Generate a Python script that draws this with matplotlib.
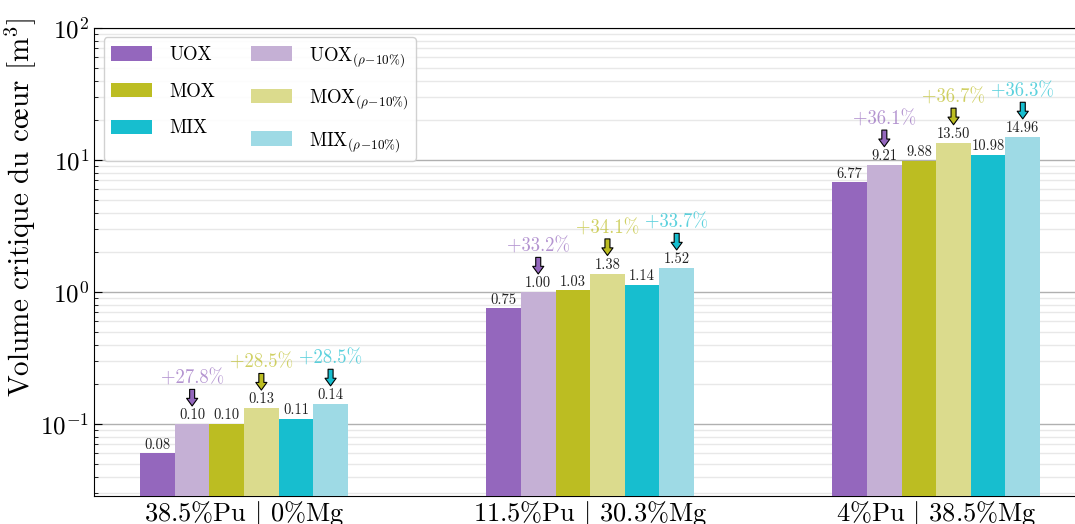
import numpy as np
import matplotlib
matplotlib.use("Agg")
import matplotlib.pyplot as plt

plt.rcParams['font.family'] = ['cmr10', 'DejaVu Serif']
plt.rcParams['mathtext.fontset'] = 'cm'
plt.rcParams['axes.formatter.use_mathtext'] = True
plt.rcParams['axes.unicode_minus'] = False

# donnees
groupes = [r'38.5%Pu $|$ 0%Mg', r'11.5%Pu $|$ 30.3%Mg', r'4%Pu $|$ 38.5%Mg']
series = ['UOX', r'UOX$_{(\rho\!-\!10\%)}$', 'MOX', r'MOX$_{(\rho\!-\!10\%)}$',
          'MIX', r'MIX$_{(\rho\!-\!10\%)}$']
uox     = [0.060, 0.753, 6.77]
uox_rho = [0.100, 1.00, 9.21]
mox     = [0.100, 1.03, 9.88]
mox_rho = [0.132, 1.38, 13.50]
mix     = [0.109, 1.14, 10.98]
mix_rho = [0.142, 1.52, 14.96]
etiquettes = [['0.08', '0.10', '0.10', '0.13', '0.11', '0.14'],
              ['0.75', '1.00', '1.03', '1.38', '1.14', '1.52'],
              ['6.77', '9.21', '9.88', '13.50', '10.98', '14.96']]
hausse_uox = ['+27.8%', '+33.2%', '+36.1%']
hausse_mox = ['+28.5%', '+34.1%', '+36.7%']
hausse_mix = ['+28.5%', '+33.7%', '+36.3%']

couleurs = ['#9467bd', '#c5b0d5', '#bcbd22', '#dbdb8d', '#17becf', '#9edae5']

fig = plt.figure(figsize=(10.75, 5.24), dpi=100)
ax = fig.add_axes([94.3/1075, 28/524, (1086-94.3)/1075, (496-28)/524])

x = np.arange(len(groupes))
w = 0.1
valeurs = [uox, uox_rho, mox, mox_rho, mix, mix_rho]
barres = []
for i, (v, c, lab) in enumerate(zip(valeurs, couleurs, series)):
    pos = x + (i - 2.5) * w
    barres.append(ax.bar(pos, v, w, color=c, label=lab, zorder=3))
    for j in range(len(x)):
        ax.text(pos[j], v[j] * 1.03, etiquettes[j][i], ha='center', va='bottom',
                fontsize=10.5, color='#222222', zorder=4)

# fleches et pourcentages
for i, hausse in [(1, hausse_uox), (3, hausse_mox), (5, hausse_mix)]:
    v = valeurs[i]
    c = couleurs[i - 1]
    for j in range(len(x)):
        px = x[j] + (i - 2.5) * w
        ax.annotate('', xy=(px, v[j] * 1.37), xytext=(px, v[j] * 1.83),
                    arrowprops=dict(arrowstyle='simple,head_width=0.8,head_length=0.55,tail_width=0.36',
                                    fc=c, ec='k', lw=0.8, mutation_scale=10,
                                    shrinkA=0, shrinkB=0), zorder=5)
        ax.text(px, v[j] * 2.2, hausse[j], ha='center', va='center',
                fontsize=13.5, color=c, alpha=0.7, zorder=5)

ax.set_yscale('log')
ax.set_ylim(0.0285, 100)
ax.set_xlim(-0.4327, 2.4327)
ax.set_xticks(x)
ax.set_xticklabels(groupes, fontsize=19)
ax.tick_params(axis='x', length=0, pad=2)
ax.tick_params(axis='y', which='major', direction='in', length=6, labelsize=18, right=False)
ax.tick_params(axis='y', which='minor', direction='in', length=3)
ax.set_ylabel(r'Volume critique du c$\mathrm{\oe}$ur [m$^3$]', fontsize=21)
ax.yaxis.set_label_coords(-0.057, 0.617)

ax.grid(True, which='major', axis='y', color='#b0b0b0', lw=1, zorder=0)
ax.grid(True, which='minor', axis='y', color='#e8e8e8', lw=1, zorder=0)
ax.spines['right'].set_visible(False)

ordre = [0, 2, 4, 1, 3, 5]
ax.legend([barres[k] for k in ordre], [series[k] for k in ordre],
          loc='upper left', ncol=2, fontsize=13.5, handlelength=2.2, handleheight=0.8,
          labelspacing=1.0, columnspacing=1.9, handletextpad=0.9,
          borderaxespad=0.5, fancybox=True, edgecolor='#cccccc', framealpha=0.9)

fig.savefig('out.png', dpi=100)
